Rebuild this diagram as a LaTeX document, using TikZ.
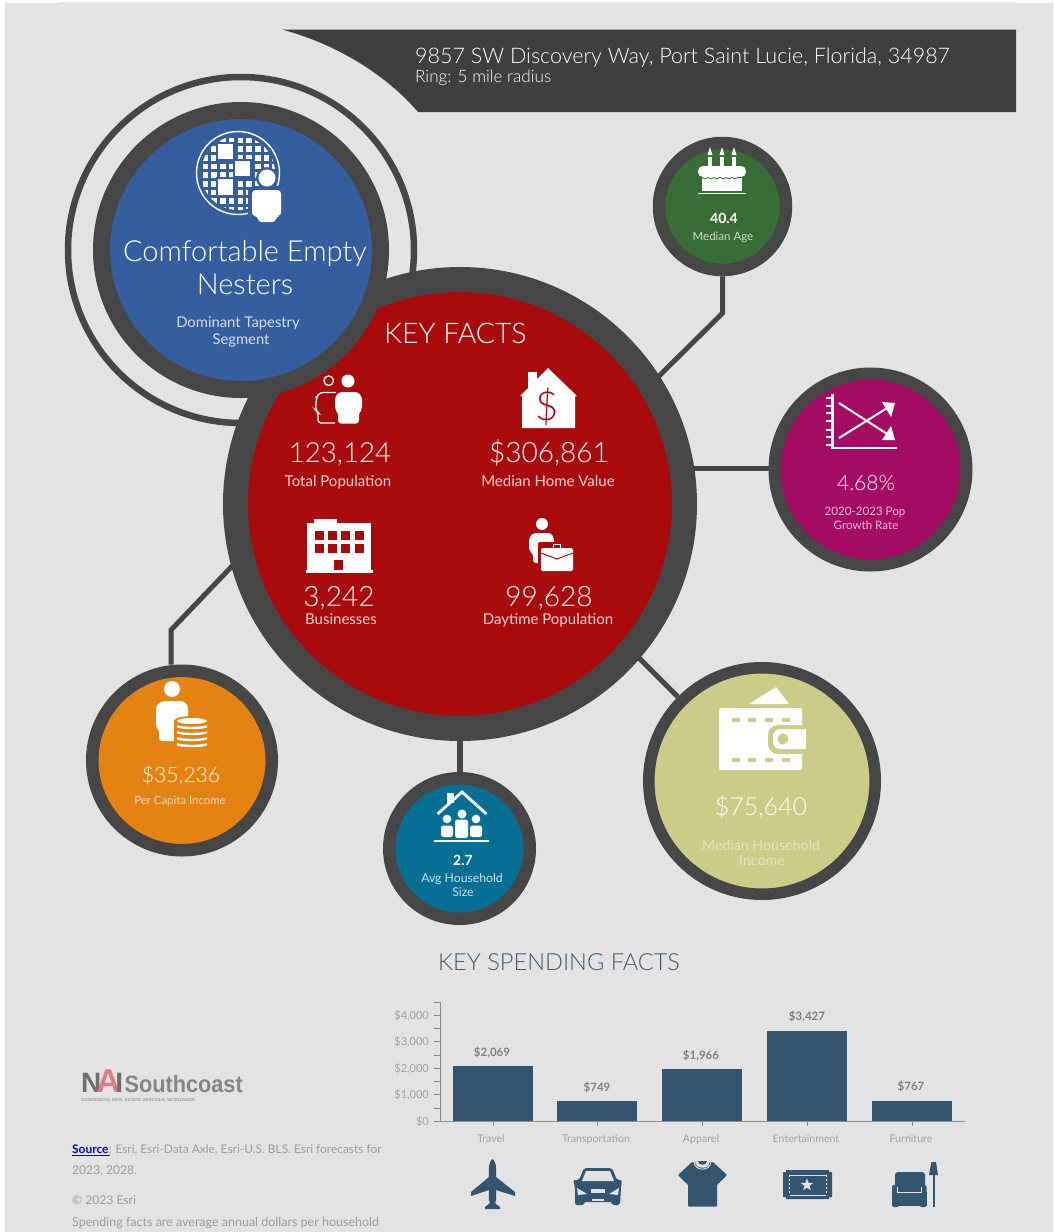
\documentclass[tikz,border=0pt]{standalone}
\usepackage{fontspec}
\setmainfont{Lato Light}[BoldFont=Lato Bold]
\newfontfamily\reg{Lato}
\newfontfamily\arialf{Liberation Sans}
\usetikzlibrary{shapes.geometric,arrows.meta}
\newcommand\fsz[1]{\fontsize{#1}{#1}\selectfont}
\definecolor{pagebg}{HTML}{E3E3E3}
\definecolor{ringc}{HTML}{464646}
\definecolor{headc}{HTML}{3F3F3F}
\definecolor{bluec}{HTML}{355E9F}
\definecolor{redc}{HTML}{A90A0C}
\definecolor{greenc}{HTML}{386D35}
\definecolor{magc}{HTML}{A40C63}
\definecolor{orangec}{HTML}{E48212}
\definecolor{tealc}{HTML}{086F94}
\definecolor{khakic}{HTML}{CBCC88}
\definecolor{navyc}{HTML}{34556F}
\definecolor{titlec}{HTML}{3F5B73}
\definecolor{axisc}{HTML}{8C8C8C}
\definecolor{ticklab}{HTML}{A0A0A0}
\definecolor{vallab}{HTML}{7F7F7F}
\definecolor{notec}{HTML}{9C9C9C}
\definecolor{logoc}{HTML}{868686}
\definecolor{logod}{HTML}{6E6E6E}
\definecolor{logop}{HTML}{DC7C84}
\tikzset{
  lab/.style={inner sep=0,anchor=base,text=white,font=\fsz{#1}},
  labw/.style={inner sep=0,anchor=base west,text=white,font=\fsz{#1}},
  sl/.style={inner sep=0,anchor=base,text=white,font=\reg\fsz{#1}},
  bub/.style n args={3}{circle,inner sep=0,draw=ringc,fill=#1,line width=#3,minimum size=#2},
  link/.style={draw=ringc,line width=5pt,line join=miter},
  wh/.style={fill=white,draw=none},
  barc/.style={fill=navyc,draw=none},
  ax/.style={draw=axisc,line width=1pt},
  ylab/.style={inner sep=0,anchor=base east,text=ticklab,font=\reg\fsz{11}},
  vlab/.style={inner sep=0,anchor=base,text=vallab,font=\bfseries\fsz{11.5}},
  clab/.style={inner sep=0,anchor=base,text=ticklab,font=\reg\fsz{10.6}},
  note/.style={inner sep=0,anchor=base west,text=notec,font=\reg\fsz{#1}},
}
\begin{document}
\begin{tikzpicture}[x=1pt,y=-1pt]
\useasboundingbox (0,0) rectangle (1053,1232);
\fill[white] (0,0) rectangle (1053,1232);
\fill[pagebg] (5,3) rectangle (1053,1232);
\fill[pagebg] (59,2) rectangle (1016,3);
% header
\fill[headc] (282,29.5) -- (1016,29.5) -- (1016,112) -- (418,112)
  .. controls (395,85) and (350,48) .. (282,29.5) -- cycle;
\node[labw=21.5] (addr) at (415,63) {9857 SW Discovery Way, Port Saint Lucie, Florida, 34987};
\node[labw=17.1] (ring) at (415,82) {Ring: 5 mile radius};
% thin ring, main, blue
\draw[ringc,line width=6.5pt] (241,250) circle (173);
\node[bub={redc}{449pt}{25pt}] (main) at (460,504) {};
\node[bub={bluec}{279pt}{17pt}] (seg) at (241,250) {};
\node[bub={greenc}{127pt}{12.5pt}] (age) at (722.5,206.5) {};
\node[bub={magc}{192pt}{12pt}] (pop) at (870.5,469.5) {};
\node[bub={orangec}{179.5pt}{12.5pt}] (pci) at (182,760.5) {};
\node[bub={tealc}{140.5pt}{12.5pt}] (hh) at (459.5,848.5) {};
\node[bub={khakic}{226.5pt}{11.5pt}] (mhi) at (762,781) {};
% connectors
\coordinate (ageb) at (722.7,313);
\coordinate (agee) at (655,380);
\coordinate (pope) at (692,468.5);
\coordinate (pcib) at (171,630);
\coordinate (pcie) at (236,562);
\coordinate (mhie) at (636,655);
\draw[link] (age.south) -- (ageb) -- (agee);
\draw[link] (pope) -- (pop.west |- pope);
\draw[link] (pci.north -| pcib) -- (pcib) -- (pcie);
\draw[link,line width=6pt] (main.south -| hh.north) -- (hh.north);
\draw[link] (mhi.135) -- (mhie);
% blue circle texts
\node[lab=29] (seg1) at (245,261) {Comfortable Empty};
\node[lab=29] (seg2) at (245,294) {Nesters};
\node[sl=14.8,text=white!78!bluec] (seg3) at (238,327) {Dominant Tapestry};
\node[sl=14.8,text=white!78!bluec] (seg4) at (241,344) {Segment};
% globe icon
\begin{scope}
\clip (238,173) circle (37);
\foreach \i in {0,...,8}\foreach \j in {0,...,8}
  \fill[white] ({202.7+8.7*\i},{137.5+8.7*\j}) rectangle +(5.6,5.6);
\fill[bluec] (216,142) rectangle (235,161);
\fill[bluec] (233,159) rectangle (252,178);
\fill[bluec] (216,177) rectangle (235,197);
\fill[white] (218,144) rectangle (233,159);
\fill[white] (235,161) rectangle (250,176);
\fill[white] (218,179) rectangle (233,195);
\end{scope}
\draw[white,line width=1.4pt] (238,173) circle (41.5);
\fill[bluec] (267,178) circle (11);
\fill[bluec,rounded corners=5pt] (248,186) rectangle (290,226);
\fill[white] (267,178) circle (8.5);
\fill[white,rounded corners=3.5pt] (252,190) -- (281,190) -- (281,216) -- (276,216) -- (276,222) -- (258,222) -- (258,216) -- (252,216) -- cycle;
% key facts
\node[labw=28.4] (kf) at (384,343) {KEY FACTS};
\node[lab=27.6] (v1) at (340,462) {123,124};
\node[sl=15,text=white!82!redc] (l1) at (338,486) {Total Population};
\node[lab=28] (v2) at (549,462) {\$306,861};
\node[sl=15,text=white!82!redc] (l2) at (548,486) {Median Home Value};
\node[lab=28] (v3) at (339,606) {3,242};
\node[sl=15,text=white!82!redc] (l3) at (341,624) {Businesses};
\node[lab=28] (v4) at (549,606) {99,628};
\node[sl=15,text=white!82!redc] (l4) at (548,624) {Daytime Population};
% population icon
\draw[white,line width=1.3pt] (328.7,380.7) circle (4.8);
\draw[white,line width=1.3pt,rounded corners=3pt] (336,392.5) -- (320,392.5) -- (316.5,397) -- (315.5,410) -- (318,412) -- (318,423) -- (335,423);
\fill[white] (348,381) circle (6.5);
\fill[white,rounded corners=3pt] (339,392) -- (358,392) -- (362,397) -- (362,410) -- (359,412) -- (359,423.5) -- (338,423.5) -- (338,412) -- (335,410) -- (335,397) -- cycle;
% home icon
\fill[white] (548,368) -- (577,396) -- (575,396) -- (575,428) -- (522,428) -- (522,396) -- (520,396) -- (528,388) -- (528,372) -- (537,372) -- (537,379) -- cycle;
\node[lab=40,text=redc] (dollar) at (547.5,420) {\$};
% building icon
\fill[white] (314,519) rectangle (337,524);
\fill[white] (307,523) rectangle (371,570);
\fill[white] (306,570) rectangle (373,573);
\foreach \x in {315,328,341,355}\foreach \y in {531,544}
  \fill[redc] (\x,\y) rectangle +(9,9);
\fill[redc] (334,560) rectangle (343,570);
% daytime icon
\fill[white] (542,524) circle (6);
\fill[white,rounded corners=3pt] (533,533) -- (551,533) -- (554,538) -- (554,563) -- (533,563) -- (533,553) -- (529,551) -- (529,538) -- cycle;
\fill[redc,rounded corners=2pt] (538,542) rectangle (576,574);
\draw[white,line width=1.2pt] (553.5,548) -- (553.5,544.5) -- (560.5,544.5) -- (560.5,548);
\fill[white,rounded corners=1.5pt] (541,548) rectangle (573,571);
\draw[redc,line width=1pt] (541,553) -- (557,559) -- (573,553);
% age
\node[lab=14,font=\bfseries\fsz{14}] (agev) at (724,223) {40.4};
\node[sl=11.5,text=white!75!greenc] (agel) at (723,240) {Median Age};
\fill[white] (698,192.5) rectangle (746,194);
\fill[white] (702,176) rectangle (742,191);
\foreach \x in {710,722,734}{
  \fill[white] ({\x-1.8},157) rectangle ({\x+1.8},168);
  \fill[white] (\x,147) -- ({\x+2.5},155) -- ({\x-2.5},155) -- cycle;
}
\fill[white,rounded corners=5pt] (698,166) rectangle (746,177);
\draw[greenc,line width=.8pt] (702,177.5) .. controls (704,179.5) and (706,179.5) .. (708,177.5) .. controls (710,179.5) and (712,179.5) .. (714,177.5) .. controls (716,179.5) and (718,179.5) .. (720,177.5) .. controls (722,179.5) and (724,179.5) .. (726,177.5) .. controls (728,179.5) and (730,179.5) .. (732,177.5) .. controls (734,179.5) and (736,179.5) .. (738,177.5) -- (742,177.5);
% growth
\node[lab=21] (popv) at (866,490) {4.68\%};
\node[sl=11.6,text=white!72!magc] (popl1) at (865,515) {2020-2023 Pop};
\node[sl=11.6,text=white!72!magc] (popl2) at (866,529) {Growth Rate};
\fill[white] (831,394) rectangle (833.5,449);
\fill[white] (831,447) rectangle (897,449);
\foreach \y in {398,406,413,421,430,437,445}
  \fill[white] (826,{\y-1}) rectangle (832,{\y+1});
\draw[white,line width=2pt] (839,438) -- (888,407.5);
\draw[white,line width=2pt] (839,403) -- (888,434.5);
\fill[white] (895,403) -- (891,417) -- (882,402) -- cycle;
\fill[white] (895,440) -- (882,440) -- (891,426) -- cycle;
% per capita
\node[lab=21.2] (pciv) at (181,782) {\$35,236};
\node[sl=11.4,text=white!72!orangec] (pcil) at (180,804) {Per Capita Income};
\fill[white] (172,689) circle (8);
\fill[white,rounded corners=3pt] (162,701) -- (184,701) -- (188,706) -- (188,741) -- (159,741) -- (159,729) -- (156,727) -- (156,706) -- cycle;
\fill[orangec] (192,721) ellipse (18 and 5);
\fill[orangec] (174,721) rectangle (210,745);
\fill[orangec] (192,745) ellipse (18 and 5);
\fill[white] (192,721) ellipse (15 and 3);
\foreach \y in {725,731,737,743}
  \fill[white] (177,\y) .. controls (183,{\y+2.4}) and (201,{\y+2.4}) .. (207,\y) -- (207,{\y+2.4}) .. controls (201,{\y+4.8}) and (183,{\y+4.8}) .. (177,{\y+2.4}) -- cycle;
% household
\node[lab=14,font=\bfseries\fsz{14}] (hhv) at (463,865) {2.7};
\node[sl=12.2,text=white!78!tealc] (hhl1) at (462,882) {Avg Household};
\node[sl=12.2,text=white!78!tealc] (hhl2) at (463,896) {Size};
\fill[white] (447,793) rectangle (454,803);
\draw[white,line width=2.8pt,line join=miter] (437.5,814) -- (462,792) -- (486.5,814);
\fill[white] (434,840) rectangle (489,842);
\fill[white] (462,814) circle (4.5);
\fill[white,rounded corners=2.5pt] (455,819.5) rectangle (468,838);
\fill[white] (447,819) circle (4.3);
\fill[white,rounded corners=2.5pt] (441,825.5) rectangle (453,837);
\fill[white] (476,819) circle (4.3);
\fill[white,rounded corners=2.5pt] (470,825.5) rectangle (482,837);
% wallet
\node[lab=25] (mhiv) at (761,815.5) {\$75,640};
\node[sl=14.2,text=white!50!khakic] (mhil1) at (761,850) {Median Household};
\node[sl=14.2,text=white!50!khakic] (mhil2) at (762,865) {Income};
\fill[white] (749,704) -- (776,687) -- (789,704) -- cycle;
\fill[white,rounded corners=2pt] (719,708) rectangle (802,770);
\foreach \x in {732,748,765,782}{
  \fill[khakic] (\x,717.5) rectangle +(8,4);
  \fill[khakic] (\x,757.5) rectangle +(8,4);
}
\fill[khakic,rounded corners=10pt] (768,725) rectangle (815,754);
\fill[white,rounded corners=7pt] (773,729) rectangle (818,749);
\fill[khakic] (806,725) rectangle (820,755);
\fill[khakic] (783,739) circle (5.5);
% spending
\node[labw=23.6,text=titlec] (ksf) at (438,970) {KEY SPENDING FACTS};
\fill[barc] (453,1066) rectangle (533,1121);
\fill[barc] (557,1101) rectangle (637,1121);
\fill[barc] (662,1069) rectangle (742,1121);
\fill[barc] (767,1031) rectangle (847,1121);
\fill[barc] (872,1101) rectangle (952,1121);
\draw[ax] (440,1002) -- (440,1121);
\draw[ax] (434,1121) -- (965,1121);
\foreach \y in {1002,1015.3,1028.5,1041.7,1055,1068.3,1081.5,1094.7,1108}
  \draw[ax] (434,\y) -- (440,\y);
\foreach \x in {493,597,702,807,912}
  \draw[ax] (\x,1121) -- (\x,1126);
\node[ylab] (y4) at (429,1019) {\$4,000};
\node[ylab] (y3) at (429,1045.5) {\$3,000};
\node[ylab] (y2) at (429,1072) {\$2,000};
\node[ylab] (y1) at (429,1098.5) {\$1,000};
\node[ylab] (y0) at (429,1125) {\$0};
\node[vlab] (b1) at (492,1056) {\$2,069};
\node[vlab] (b2) at (597,1091) {\$749};
\node[vlab] (b3) at (701,1059) {\$1,966};
\node[vlab] (b4) at (807,1020) {\$3,427};
\node[vlab] (b5) at (911,1090) {\$767};
\node[clab] (c1) at (491,1142) {Travel};
\node[clab] (c2) at (596,1142) {Transportation};
\node[clab] (c3) at (701,1142) {Apparel};
\node[clab] (c4) at (806,1142) {Entertainment};
\node[clab] (c5) at (911,1142) {Furniture};
% plane
\fill[barc] (488.8,1170) .. controls (488.8,1163) and (491,1160) .. (492.5,1159) .. controls (494,1160) and (496.2,1163) .. (496.2,1170) -- (496.2,1199) -- (495,1204) -- (490,1204) -- (488.8,1199) -- cycle;
\fill[barc] (489,1177) -- (471,1192) -- (471,1196) -- (489,1190) -- cycle;
\fill[barc] (496,1177) -- (515,1192) -- (515,1196) -- (496,1190) -- cycle;
\fill[barc] (492.5,1201) -- (500,1207) -- (500,1209) -- (485,1209) -- (485,1207) -- cycle;
% car
\fill[barc,rounded corners=2pt] (584,1168) -- (612,1168) -- (617,1180) -- (622,1180) -- (621,1187) -- (620,1205) -- (612,1205) -- (612,1202) -- (584,1202) -- (584,1205) -- (575,1205) -- (575,1187) -- (573,1180) -- (579,1180) -- cycle;
\fill[pagebg] (586,1171) -- (610,1171) -- (614,1181) -- (582,1181) -- cycle;
\fill[pagebg] (577,1188) -- (587,1194) -- (578,1195) -- cycle;
\fill[pagebg] (619,1188) -- (609,1194) -- (618,1195) -- cycle;
\fill[pagebg] (591,1189) rectangle (605,1193);
\fill[pagebg] (592,1199) rectangle (604,1200.5);
% shirt
\fill[barc,rounded corners=1pt] (692,1162) -- (678,1175) -- (687,1184) -- (688,1184) -- (688,1206.5) -- (717,1206.5) -- (717,1184) -- (718,1184) -- (727,1175) -- (713,1162) -- cycle;
\fill[pagebg] (695,1161) -- (710,1161) .. controls (710,1170) and (695,1170) .. (695,1161) -- cycle;
\fill[barc] (698,1161) -- (707,1161) .. controls (707,1166) and (698,1166) .. (698,1161) -- cycle;
\draw[pagebg,line width=.9pt] (694,1162) .. controls (695,1171.5) and (710,1171.5) .. (711,1162);
% ticket
\fill[barc] (786,1170) -- (829,1170) -- (829,1172) -- (832,1172) -- (832,1197) -- (829,1197) -- (829,1199) -- (786,1199) -- (786,1197) -- (783,1197) -- (783,1172) -- (786,1172) -- cycle;
\draw[pagebg,line width=1pt] (789.5,1175) -- (826,1175);
\draw[pagebg,line width=1pt] (789.5,1195) -- (826,1195);
\draw[pagebg,line width=1pt,dashed,dash pattern=on 2pt off 2pt] (789.5,1175) -- (789.5,1195);
\draw[pagebg,line width=1pt,dashed,dash pattern=on 2pt off 2pt] (826,1175) -- (826,1195);
\node[star,star points=5,star point ratio=2.4,fill=pagebg,inner sep=0,minimum size=13pt] (tstar) at (807,1185) {};
% chair
\fill[barc,rounded corners=3pt] (895,1172) rectangle (925,1195);
\fill[barc,rounded corners=2pt] (892,1185) rectangle (899,1207);
\fill[barc,rounded corners=2pt] (919.5,1185) rectangle (926.5,1207);
\fill[barc] (892,1192) rectangle (926.5,1206);
\draw[pagebg,line width=1pt] (897,1187) -- (897,1192.5) -- (921.5,1192.5) -- (921.5,1187);
\fill[barc] (931.5,1162) -- (936,1162) -- (938,1175) -- (929,1175) -- cycle;
\fill[barc] (932.8,1175) rectangle (934.6,1207);
% logo
\node[inner sep=0,anchor=base west,font=\arialf\bfseries\fsz{28}] (nai) at (81,1092) {\textcolor{logod}{N}\kern-5pt\textcolor{logop}{\fsz{33}A}\kern-5pt\textcolor{logod}{I}};
\node[inner sep=0,anchor=base west,text=logoc,font=\arialf\bfseries\fsz{23.7},xscale=.915] (sc) at (124.5,1092) {Southcoast};
\node[inner sep=0,anchor=base west,text=logoc,font=\arialf\fsz{4.4}] (tag) at (81,1101.5) {COMMERCIAL REAL ESTATE SERVICES, WORLDWIDE};
% notes
\node[note=11.9] (n1) at (72,1153) {\textcolor{blue}{\bfseries Source}: Esri, Esri-Data Axle, Esri-U.S. BLS. Esri forecasts for};
\draw[blue,line width=1pt] (n1.base west) ++(0,2) -- ++(38,0);
\node[note=12.1] (n2) at (72,1174) {2023, 2028.};
\node[note=12.1] (n3) at (72,1204) {© 2023 Esri};
\node[note=12.5] (n4) at (72,1226) {Spending facts are average annual dollars per household};
\end{tikzpicture}
\end{document}
